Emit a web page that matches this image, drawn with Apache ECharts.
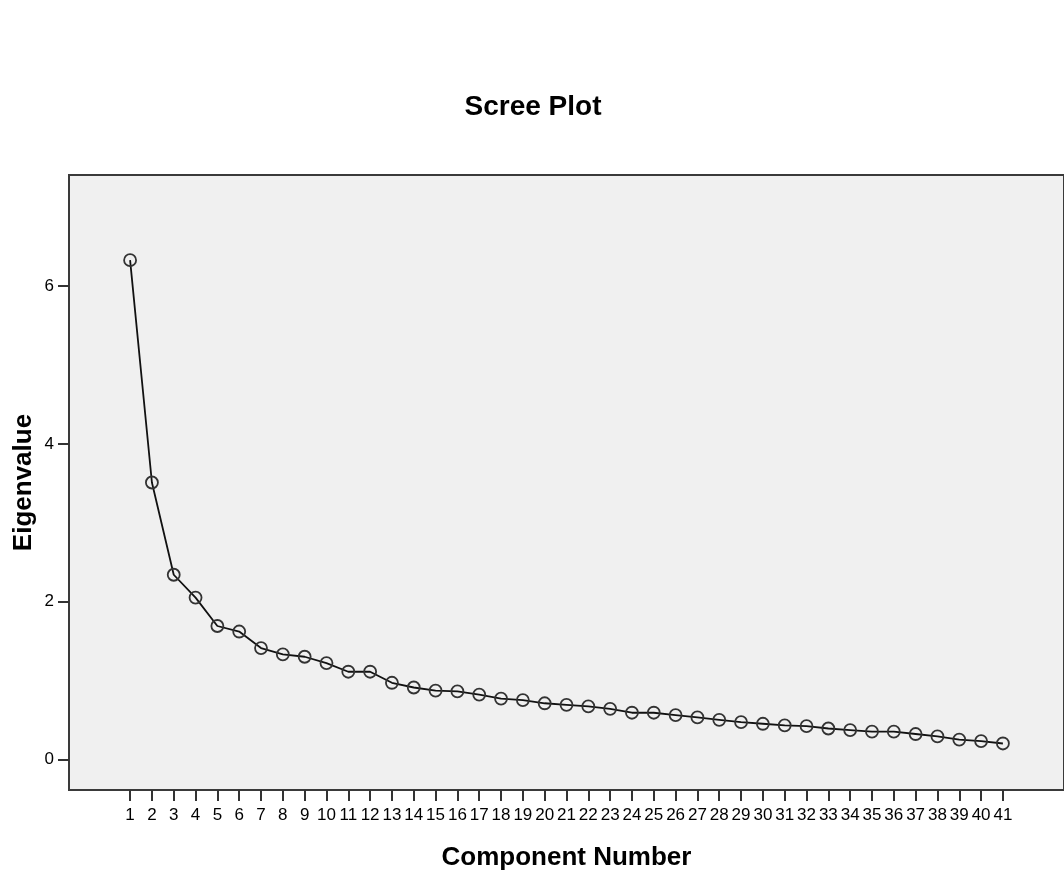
<!DOCTYPE html>
<html>
<head>
<meta charset="utf-8">
<script src="https://cdn.jsdelivr.net/npm/echarts@6/dist/echarts.min.js"></script>
<style>
html,body{margin:0;padding:0;background:#fff;}
#c{width:1064px;height:876px;}
</style>
</head>
<body>
<div id="c"></div>
<script>
const components = [1,2,3,4,5,6,7,8,9,10,11,12,13,14,15,16,17,18,19,20,21,22,23,24,25,26,27,28,29,30,31,32,33,34,35,36,37,38,39,40,41];
const eigenvalues = [6.33,3.51,2.34,2.05,1.69,1.62,1.41,1.33,1.30,1.22,1.11,1.11,0.97,0.91,0.87,0.86,0.82,0.77,0.75,0.71,0.69,0.67,0.64,0.59,0.59,0.56,0.53,0.50,0.47,0.45,0.43,0.42,0.39,0.37,0.35,0.35,0.32,0.29,0.25,0.23,0.20];
const yTicks = [0,2,4,6];

const font = '"Liberation Sans", Arial, sans-serif';
const chart = echarts.init(document.getElementById('c'), null, {renderer:'canvas'});
chart.setOption({
  animation:false,
  backgroundColor:'#ffffff',
  title:{
    text:'Scree Plot',
    left:528, top:88, textAlign:'center',
    textStyle:{fontFamily:font, fontSize:28, fontWeight:'bold', color:'#000'}
  },
  grid:{
    left:69, top:175, width:1003, height:620,
    show:true, backgroundColor:'#f0f0f0', borderColor:'#3a3a3a', borderWidth:2
  },
  xAxis:{
    type:'value', min:-1.8, max:43.8,
    name:'Component Number', nameLocation:'middle', nameGap:55, nameMoveOverlap:false,
    nameTextStyle:{fontFamily:font, fontSize:26, fontWeight:'bold', color:'#000'},
    axisLine:{show:false, onZero:false},
    splitLine:{show:false},
    axisTick:{show:true, length:11, customValues:components, lineStyle:{color:'#333', width:2}},
    axisLabel:{show:true, customValues:components, margin:17, fontFamily:font, fontSize:17, color:'#000'}
  },
  yAxis:{
    type:'value', min:-0.39, max:7.41,
    name:'Eigenvalue', nameLocation:'middle', nameGap:32, nameRotate:90, nameMoveOverlap:false,
    nameTextStyle:{fontFamily:font, fontSize:26, fontWeight:'bold', color:'#000'},
    axisLine:{show:false, onZero:false},
    splitLine:{show:false},
    axisTick:{show:true, length:11, customValues:yTicks, lineStyle:{color:'#333', width:2}},
    axisLabel:{show:true, customValues:yTicks, margin:15, fontFamily:font, fontSize:17, color:'#000'}
  },
  series:[{
    type:'line',
    data:components.map((c,i)=>[c, eigenvalues[i]]),
    symbol:'circle', symbolSize:12,
    itemStyle:{color:'rgba(0,0,0,0)', borderColor:'#333', borderWidth:1.8},
    lineStyle:{color:'#111', width:1.8},
    z:3
  }]
});
</script>
</body>
</html>
